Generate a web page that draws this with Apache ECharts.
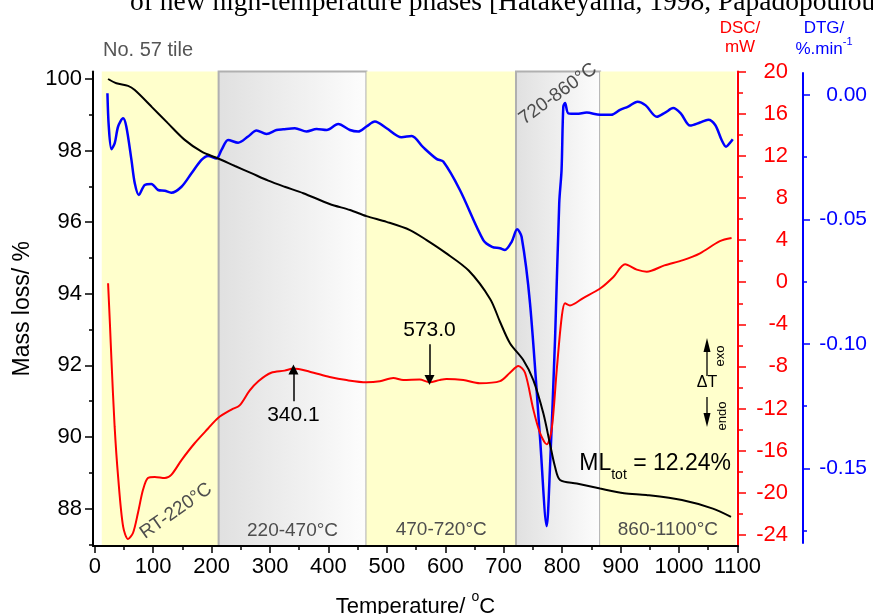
<!DOCTYPE html>
<html>
<head>
<meta charset="utf-8">
<script src="https://cdn.jsdelivr.net/npm/echarts@6/dist/echarts.min.js"></script>
<style>
  html, body { margin: 0; padding: 0; background: #fff; }
  #chart { width: 873px; height: 614px; }
</style>
</head>
<body>
<div id="chart"></div>
<script>
// Thermogravimetric mass curve (%), No. 57 tile
const massT = [22.8, 37, 57, 68.5, 97, 125.5, 154, 183, 211, 240, 268, 297, 325, 357, 402, 437, 465, 499.5, 539.5, 568, 600, 640, 677, 693.6, 710.7, 733.5, 750.7, 767.8, 779, 787.8, 796.4, 825, 865, 906, 944, 1005, 1058, 1089];
const massV = [100.0, 99.88, 99.81, 99.69, 99.23, 98.76, 98.30, 97.97, 97.78, 97.57, 97.37, 97.16, 96.99, 96.81, 96.51, 96.34, 96.17, 96.01, 95.78, 95.50, 95.15, 94.65, 93.85, 93.22, 92.62, 92.15, 91.59, 90.66, 89.82, 89.17, 88.80, 88.70, 88.56, 88.43, 88.38, 88.24, 88.00, 87.77];

// DSC signal (mW)
const dscT = [22.8, 26, 28.6, 34, 40, 48.5, 57, 65.6, 74, 82.7, 91, 102.7, 119.9, 131, 148.5, 171, 194, 211, 234, 248, 265, 280, 302, 325, 340, 368, 402, 431, 465, 488, 511, 528, 556, 573, 590, 602, 631, 659, 693.6, 710.7, 725, 736.5, 750.7, 762, 773.6, 782, 790.8, 799.3, 805, 813.4, 836, 865, 887.7, 907.7, 927.7, 944.8, 975, 1007, 1036, 1070, 1090];
const dscV = [-0.1, -4.0, -7.4, -13.7, -18.5, -23.2, -24.4, -23.8, -21.9, -19.7, -18.6, -18.5, -18.6, -18.3, -16.9, -15.3, -13.9, -12.9, -12.1, -11.7, -10.3, -9.4, -8.6, -8.4, -8.2, -8.5, -9.0, -9.3, -9.5, -9.4, -9.1, -9.3, -9.25, -9.5, -9.3, -9.2, -9.3, -9.6, -9.4, -8.6, -7.95, -8.6, -12.1, -14.3, -15.4, -14.0, -8.3, -3.3, -2.0, -2.2, -1.5, -0.6, 0.5, 1.7, 1.2, 1.0, 1.6, 2.1, 2.75, 3.9, 4.2];

// Derivative mass curve (%.min-1)
const dtgT = [21.7, 24, 28.6, 34.2, 40, 48.5, 54, 62.8, 68.5, 75.4, 85.6, 97, 108.4, 119.9, 131, 148.5, 165.6, 182.7, 194, 208.4, 217, 228.3, 245.4, 262.5, 276.9, 294, 311, 322.5, 342.5, 362.6, 379.7, 397, 416.7, 436.7, 451, 465, 479.5, 499.5, 525, 542.4, 562, 585, 596.5, 625, 665, 680, 693.6, 702, 713.6, 723, 730.6, 745, 762, 773.6, 779, 788, 795, 799, 802, 805, 810.6, 825, 842, 865, 884, 899, 913, 929, 943, 962, 977, 990, 1003, 1019, 1036, 1050, 1062, 1073, 1080.6, 1087.5, 1092];
const dtgV = [0.0007, -0.0127, -0.0218, -0.0194, -0.0127, -0.0094, -0.0127, -0.0261, -0.0355, -0.0402, -0.0362, -0.0358, -0.0382, -0.0385, -0.0393, -0.0369, -0.0315, -0.0261, -0.0245, -0.0255, -0.0221, -0.0181, -0.0192, -0.0167, -0.0143, -0.0157, -0.0141, -0.0138, -0.0134, -0.0147, -0.0137, -0.0141, -0.0117, -0.0141, -0.0147, -0.0127, -0.0107, -0.0134, -0.0170, -0.0165, -0.0210, -0.0257, -0.0268, -0.0382, -0.0583, -0.0610, -0.0616, -0.0623, -0.0590, -0.0540, -0.0570, -0.0837, -0.1373, -0.1732, -0.1507, -0.0971, -0.0435, -0.0301, -0.0047, -0.0033, -0.0074, -0.0076, -0.0071, -0.0080, -0.0080, -0.0060, -0.0047, -0.0027, -0.0042, -0.0088, -0.0070, -0.0053, -0.0074, -0.0123, -0.0111, -0.0100, -0.0121, -0.0181, -0.0208, -0.0192, -0.0178];

// Axis ticks
const tempTicks = [0, 100, 200, 300, 400, 500, 600, 700, 800, 900, 1000, 1100];
const tempMinor = [50, 150, 250, 350, 450, 550, 650, 750, 850, 950, 1050];
const massTicks = [88, 90, 92, 94, 96, 98, 100];
const massMinor = [87, 89, 91, 93, 95, 97, 99];
const dscTicks = [-24, -20, -16, -12, -8, -4, 0, 4, 8, 12, 16, 20];
const dscMinor = [-22, -18, -14, -10, -6, -2, 2, 6, 10, 14, 18];
const dtgTicks = [0, -0.05, -0.10, -0.15];
const dtgMinor = [-0.025, -0.075, -0.125, -0.175];

// Decomposition stages (°C)
const stageFrom = [12, 212, 465, 721, 865];
const stageTo = [212, 465, 721, 865, 1097];
const stageText = ['RT-220°C', '220-470°C', '470-720°C', '720-860°C', '860-1100°C'];
const stageGrey = [false, true, false, true, false];

// Marked DSC peaks: temperature and signal at the peak
const peakT = [340.1, 573.0];
const peakDsc = [-8.3, -9.3];

const FONT = '"Liberation Sans", Arial, sans-serif';
const SERIF = '"Liberation Serif", "Times New Roman", serif';
const pair = (xs, ys) => xs.map((x, i) => [x, ys[i]]);

const greyFill = new echarts.graphic.LinearGradient(0, 0, 1, 0, [
  { offset: 0, color: '#e0e0e0' },
  { offset: 1, color: '#fdfdfd' }
]);

const stageAreas = stageFrom.map((f, i) => {
  const grey = stageGrey[i];
  const rotated = stageText[i] === 'RT-220°C' || stageText[i] === '720-860°C';
  return [
    {
      xAxis: f,
      itemStyle: grey
        ? { color: greyFill, borderColor: '#b0b0b0', borderWidth: 2 }
        : { color: '#ffffcc', borderWidth: 0 },
      label: {
        show: !rotated,
        formatter: stageText[i],
        position: 'insideBottom',
        distance: 7,
        color: '#4d4d4d',
        fontSize: 19,
        fontFamily: FONT
      }
    },
    { xAxis: stageTo[i] }
  ];
});

// Peak annotations: arrow pointing at the DSC curve, value written at its tail
const peakLines = peakT.map((t, i) => {
  const tail = i === 0 ? peakDsc[i] - 3.0 : peakDsc[i] + 3.4;
  return [
    { coord: [t, tail], name: t.toFixed(1) },
    { coord: [t, peakDsc[i]] }
  ];
});

const tickStyle = c => ({ color: c, width: 1.5 });
// right-aligned tick labels on the right-hand axes
const rightLabel = (c, size, w, fmt) => ({
  fontSize: size, color: c, fontFamily: FONT, margin: 12, align: 'left',
  formatter: v => '{w|' + fmt(v) + '}',
  rich: { w: { width: w, align: 'right', fontSize: size, color: c, fontFamily: FONT } }
});

const gridBase = { left: 93, right: 135, outerBoundsMode: 'none', containLabel: false };

const option = {
  animation: false,
  textStyle: { fontFamily: FONT },
  grid: [
    Object.assign({ top: 71.5, bottom: 68 }, gridBase),
    Object.assign({ top: 73, bottom: 71 }, gridBase)
  ],
  xAxis: [
    {
      gridIndex: 0, type: 'value', position: 'bottom', min: -3, max: 1101, z: 10,
      axisLine: { onZero: false, lineStyle: { color: '#000', width: 2 } },
      axisTick: { customValues: tempTicks, length: 7, lineStyle: tickStyle('#000') },
      axisLabel: { customValues: tempTicks, fontSize: 22, color: '#000', margin: 10, fontFamily: FONT, formatter: v => String(v) },
      splitLine: { show: false },
      name: '{t|Temperature/ }{s|o}{t|C}',
      nameLocation: 'middle',
      nameGap: 44,
      nameTextStyle: {
        rich: {
          t: { fontSize: 22, color: '#000', lineHeight: 28, verticalAlign: 'bottom', fontFamily: FONT },
          s: { fontSize: 14, color: '#000', lineHeight: 14, verticalAlign: 'top', fontFamily: FONT }
        }
      }
    },
    {
      gridIndex: 0, type: 'value', position: 'bottom', min: -3, max: 1101, z: 10,
      axisLine: { show: false, onZero: false },
      axisTick: { customValues: tempMinor, length: 4, lineStyle: tickStyle('#000') },
      axisLabel: { show: false },
      splitLine: { show: false }
    },
    { gridIndex: 1, type: 'value', min: -3, max: 1101, show: false, axisLine: { onZero: false } }
  ],
  yAxis: [
    {
      gridIndex: 0, type: 'value', position: 'left', min: 86.955, max: 100.21, z: 10,
      axisLine: { show: true, onZero: false, lineStyle: { color: '#000', width: 2 } },
      axisTick: { show: true, customValues: massTicks, length: 8, lineStyle: tickStyle('#000') },
      axisLabel: { customValues: massTicks, fontSize: 22, color: '#000', margin: 11, fontFamily: FONT },
      splitLine: { show: false },
      name: 'Mass loss/ %',
      nameLocation: 'middle',
      nameGap: 56,
      nameTextStyle: { fontSize: 23, color: '#000', fontFamily: FONT }
    },
    {
      gridIndex: 0, type: 'value', position: 'left', min: 86.955, max: 100.21, z: 10,
      axisLine: { show: false, onZero: false },
      axisTick: { show: true, customValues: massMinor, length: 4, lineStyle: tickStyle('#000') },
      axisLabel: { show: false },
      splitLine: { show: false }
    },
    {
      gridIndex: 0, type: 'value', position: 'right', min: -25.06, max: 20.02, z: 10,
      axisLine: { show: true, onZero: false, lineStyle: { color: '#ff0000', width: 2 } },
      axisTick: { show: true, customValues: dscTicks, length: 8, lineStyle: tickStyle('#ff0000') },
      axisLabel: Object.assign({ customValues: dscTicks }, rightLabel('#ff0000', 22, 38, v => String(v))),
      splitLine: { show: false }
    },
    {
      gridIndex: 0, type: 'value', position: 'right', min: -25.06, max: 20.02, z: 10,
      axisLine: { show: false, onZero: false },
      axisTick: { show: true, customValues: dscMinor, length: 5, lineStyle: tickStyle('#ff0000') },
      axisLabel: { show: false },
      splitLine: { show: false }
    },
    {
      gridIndex: 1, type: 'value', position: 'right', offset: 65, min: -0.18, max: 0.0088, z: 10,
      axisLine: { show: true, onZero: false, lineStyle: { color: '#0000ff', width: 2 } },
      axisTick: { show: true, customValues: dtgTicks, length: 7, lineStyle: tickStyle('#0000ff') },
      axisLabel: Object.assign({ customValues: dtgTicks }, rightLabel('#0000ff', 21, 52, v => (Math.abs(v) < 1e-9 ? 0 : v).toFixed(2))),
      splitLine: { show: false }
    },
    {
      gridIndex: 1, type: 'value', position: 'right', offset: 65, min: -0.18, max: 0.0088, z: 10,
      axisLine: { show: false, onZero: false },
      axisTick: { show: true, customValues: dtgMinor, length: 4, lineStyle: tickStyle('#0000ff') },
      axisLabel: { show: false },
      splitLine: { show: false }
    }
  ],
  series: [
    {
      name: 'DTG', type: 'line', xAxisIndex: 2, yAxisIndex: 4, z: 3,
      data: pair(dtgT, dtgV), showSymbol: false, symbol: 'none',
      smooth: 0.3,
      lineStyle: { color: '#0000ff', width: 2.5 }
    },
    {
      name: 'DSC', type: 'line', xAxisIndex: 0, yAxisIndex: 2, z: 4,
      data: pair(dscT, dscV), showSymbol: false, symbol: 'none',
      smooth: 0.3,
      lineStyle: { color: '#ff0000', width: 2 },
      markLine: {
        silent: true,
        symbol: ['none', 'triangle'],
        symbolSize: 10,
        lineStyle: { color: '#000', width: 1.5, type: 'solid' },
        label: {
          show: true, position: 'start', formatter: '{b}', distance: 4,
          color: '#000', fontSize: 21, fontFamily: FONT
        },
        data: peakLines
      }
    },
    {
      name: 'TG', type: 'line', xAxisIndex: 0, yAxisIndex: 0, z: 5,
      data: pair(massT, massV), showSymbol: false, symbol: 'none',
      smooth: 0.3,
      lineStyle: { color: '#000', width: 2 },
      markArea: { silent: true, data: stageAreas }
    }
  ],
  graphic: {
    elements: [
      // running text of the page, partly cut off at the top edge
      { type: 'text', z: 100, x: 130, y: 3, style: { text: 'of new high-temperature phases [Hatakeyama, 1998, Papadopoulou', fontSize: 27.5, fill: '#000', fontFamily: SERIF, verticalAlign: 'middle' } },
      { type: 'text', z: 100, x: 103, y: 50, style: { text: 'No. 57 tile', fontSize: 20, fill: '#555', fontFamily: FONT, verticalAlign: 'middle' } },
      { type: 'text', z: 100, x: 740, y: 28, style: { text: 'DSC/', fontSize: 17, fill: '#ff0000', fontFamily: FONT, align: 'center', verticalAlign: 'middle' } },
      { type: 'text', z: 100, x: 740, y: 47, style: { text: 'mW', fontSize: 17, fill: '#ff0000', fontFamily: FONT, align: 'center', verticalAlign: 'middle' } },
      { type: 'text', z: 100, x: 824, y: 28, style: { text: 'DTG/', fontSize: 17, fill: '#0000ff', fontFamily: FONT, align: 'center', verticalAlign: 'middle' } },
      {
        type: 'text', z: 100, x: 824, y: 47,
        style: {
          text: '{a|%.min}{b|-1}', align: 'center', verticalAlign: 'middle',
          rich: {
            a: { fontSize: 17, fill: '#0000ff', fontFamily: FONT, lineHeight: 22, verticalAlign: 'bottom' },
            b: { fontSize: 11, fill: '#0000ff', fontFamily: FONT, lineHeight: 11, verticalAlign: 'top' }
          }
        }
      },
      { type: 'text', z: 100, x: 176, y: 511, rotation: 35 * Math.PI / 180, style: { text: 'RT-220°C', fontSize: 19, fill: '#4d4d4d', fontFamily: FONT, align: 'center', verticalAlign: 'middle' } },
      { type: 'text', z: 100, x: 558, y: 94, rotation: 36 * Math.PI / 180, style: { text: '720-860°C', fontSize: 19, fill: '#4d4d4d', fontFamily: FONT, align: 'center', verticalAlign: 'middle' } },
      {
        type: 'text', z: 100, x: 731, y: 452,
        style: {
          text: '{a|ML}{b|tot}{a| = 12.24%}', align: 'right', verticalAlign: 'top',
          rich: {
            a: { fontSize: 23, fill: '#000', fontFamily: FONT, lineHeight: 30, verticalAlign: 'top' },
            b: { fontSize: 14, fill: '#000', fontFamily: FONT, lineHeight: 8, verticalAlign: 'bottom' }
          }
        }
      },
      // exo / endo direction indicator
      { type: 'text', z: 100, x: 707, y: 383, style: { text: 'ΔT', fontSize: 16, fill: '#000', fontFamily: FONT, align: 'center', verticalAlign: 'middle' } },
      { type: 'line', z: 100, shape: { x1: 707, y1: 376, x2: 707, y2: 350 }, style: { stroke: '#000', lineWidth: 1.3 } },
      { type: 'polygon', z: 100, shape: { points: [[707, 338], [703.5, 352], [710.5, 352]] }, style: { fill: '#000' } },
      { type: 'line', z: 100, shape: { x1: 707, y1: 397, x2: 707, y2: 414 }, style: { stroke: '#000', lineWidth: 1.3 } },
      { type: 'polygon', z: 100, shape: { points: [[707, 427], [703.5, 413], [710.5, 413]] }, style: { fill: '#000' } },
      { type: 'text', z: 100, x: 720.5, y: 356, rotation: Math.PI / 2, style: { text: 'exo', fontSize: 13, fill: '#000', fontFamily: FONT, align: 'center', verticalAlign: 'middle' } },
      { type: 'text', z: 100, x: 722, y: 416, rotation: Math.PI / 2, style: { text: 'endo', fontSize: 13, fill: '#000', fontFamily: FONT, align: 'center', verticalAlign: 'middle' } }
    ]
  }
};

const chart = echarts.init(document.getElementById('chart'), null, { renderer: 'canvas' });
chart.setOption(option);
</script>
</body>
</html>
